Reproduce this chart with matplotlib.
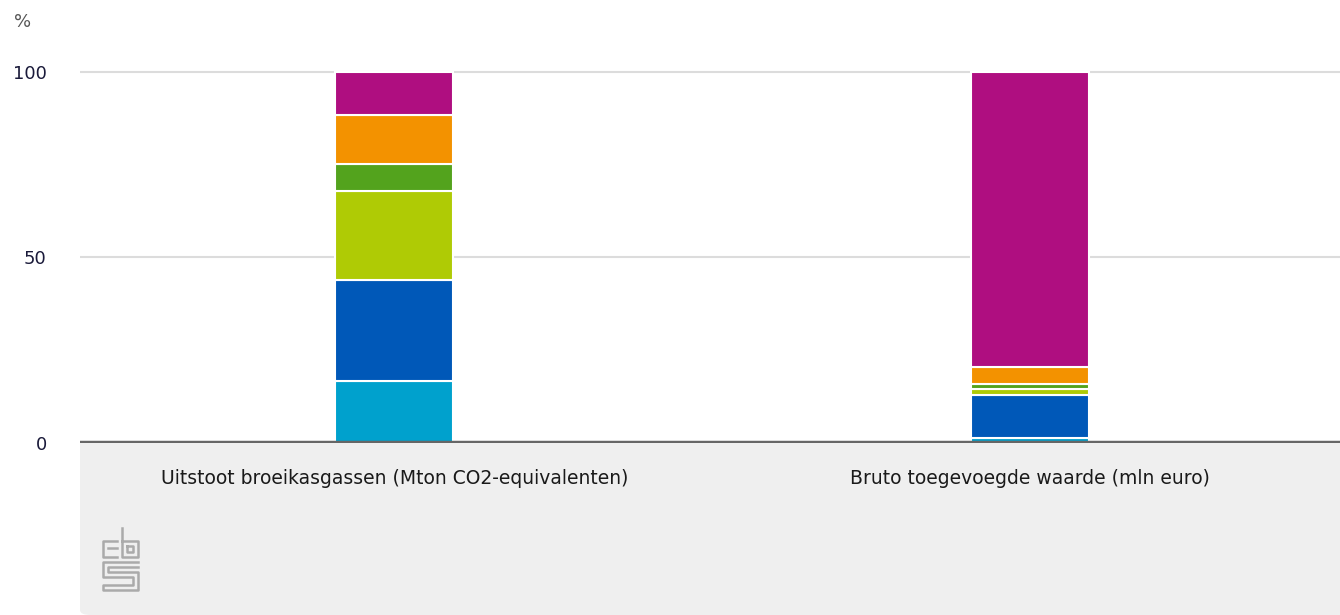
import matplotlib
matplotlib.use("Agg")
import matplotlib.pyplot as plt
from matplotlib.patches import FancyBboxPatch
from matplotlib.lines import Line2D

plt.rcParams['font.family'] = ['DejaVu Sans']

# data (percent of total, bottom to top)
categories = ["Uitstoot broeikasgassen (Mton CO2-equivalenten)",
              "Bruto toegevoegde waarde (mln euro)"]
cyan_part = [16.8, 1.4]
blue_part = [27.1, 11.6]
lightgreen_part = [24.0, 1.6]
green_part = [7.2, 1.3]
orange_part = [13.3, 4.7]
purple_part = [11.6, 79.4]
series = [cyan_part, blue_part, lightgreen_part, green_part, orange_part, purple_part]
colors = ["#00a1cd", "#0058b8", "#afcb05", "#53a31d", "#f39200", "#af0e80"]
yticks = [0, 50, 100]

W, H = 1340, 615
fig = plt.figure(figsize=(W / 100, H / 100), dpi=100)

# grey footer band with rounded lower-left corner
band = FancyBboxPatch((80 / W, 0.0), 1.2, (H - 420) / H,
                      boxstyle="round,pad=0,rounding_size=0.008",
                      transform=fig.transFigure, facecolor="#efefef",
                      edgecolor="none", zorder=-1)
fig.patches.append(band)

ax = fig.add_axes([80 / W, (H - 443) / H, (W - 80) / W, (443 - 60) / H])
ax.set_facecolor("white")

x = range(len(categories))
bottom = [0.0] * len(categories)
for vals, c in zip(series, colors):
    ax.bar(x, vals, bottom=bottom, width=0.185, color=c,
           edgecolor="white", linewidth=1.5, zorder=3)
    bottom = [b + v for b, v in zip(bottom, vals)]

ax.set_xlim(-0.494, 1.487)
ax.set_ylim(0, 103.2)
ax.set_yticks(yticks)
ax.set_yticklabels([str(t) for t in yticks], fontsize=13, color="#1a1a3a")
ax.set_xticks(list(x))
ax.set_xticklabels(categories, fontsize=13.5, color="#1a1a1a")
ax.tick_params(axis="both", length=0)
ax.tick_params(axis="y", pad=24)
ax.tick_params(axis="x", pad=19)
for yv in yticks[1:]:
    ax.axhline(yv, color="#dcdcdc", linewidth=1.5, zorder=1)
ax.axhline(0, color="#666666", linewidth=3.2, zorder=4)
for s in ax.spines.values():
    s.set_visible(False)

fig.text(14 / W, 1 - 22 / H, "%", fontsize=13, color="#555555", va="center")

# cbs logo (approximate)
def px(xs, ys):
    return [v / W for v in xs], [1 - v / H for v in ys]

logo = [
    ([117, 103, 103, 117], [541, 541, 557, 557]),                      # c
    ([108, 117], [548, 548]),
    ([122, 122, 138, 138, 122], [528, 557, 557, 541, 541]),            # b
    ([127, 133, 133, 127, 127], [546, 546, 552, 552, 546]),
    ([138, 103, 103, 133, 133, 103, 103, 138, 138, 108, 108, 138],
     [562, 562, 577, 577, 585, 585, 590, 590, 572, 572, 567, 567]),  # s
]
for xs, ys in logo:
    lx, ly = px(xs, ys)
    fig.add_artist(Line2D(lx, ly, transform=fig.transFigure,
                          color="#aaaaaa", linewidth=1.8))

fig.savefig("out.png", dpi=100)
